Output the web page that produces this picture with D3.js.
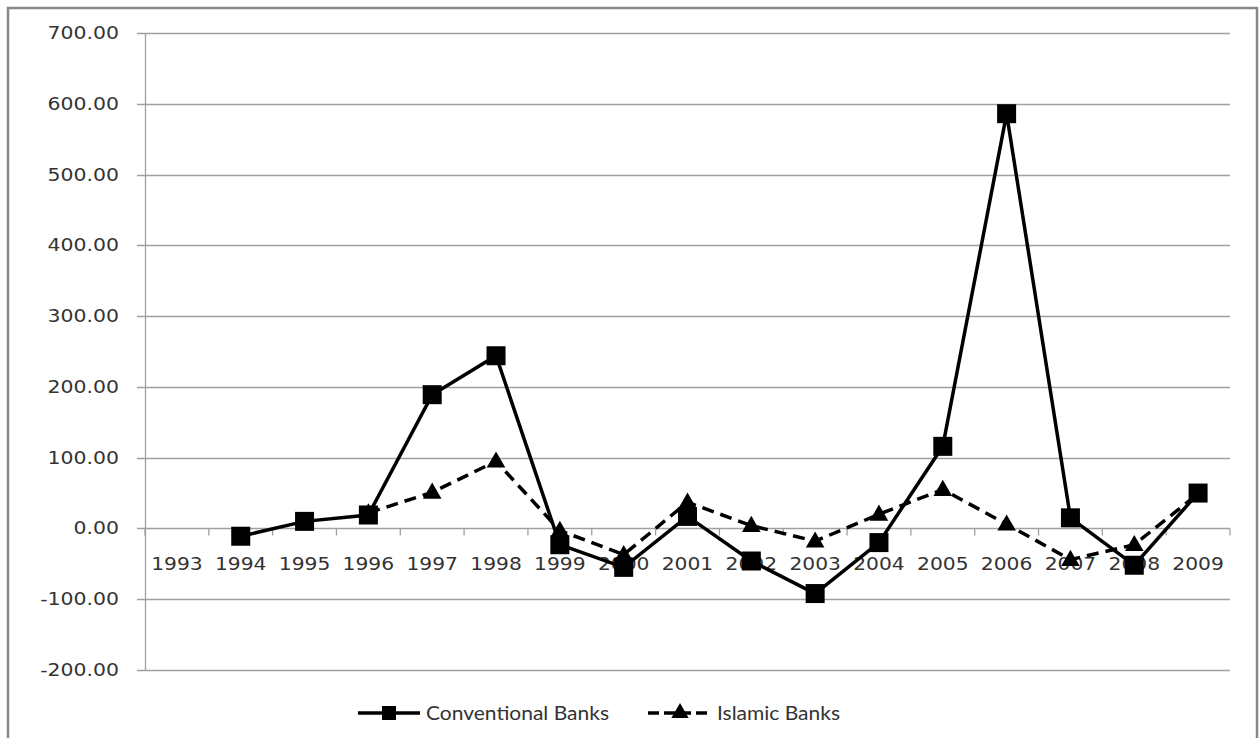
<!DOCTYPE html>
<html><head><meta charset="utf-8">
<script src="https://cdn.jsdelivr.net/npm/d3@7"></script>
<style>body{margin:0;background:#fff}svg{display:block}</style>
</head><body><svg id="c" width="1260" height="738"></svg>
<script>
const years = ["1993","1994","1995","1996","1997","1998","1999","2000","2001","2002","2003","2004","2005","2006","2007","2008","2009"];
const conventional = [null,-11,10,19,189,244,-23,-55,17,-46,-92,-20,116,586,15,-52,50];
const islamic = [null,null,null,22,51,95,-3,-37,37,4,-18,20,55,6,-44,-23,49];
const yTicks = [-200,-100,0,100,200,300,400,500,600,700];
const seriesNames = ["Conventional Banks","Islamic Banks"];

const svg = d3.select("#c");
const L=145,R=1230,T=33,B=670;
const x = d3.scaleBand().domain(years).range([L,R]);
const y = d3.scaleLinear().domain([-200,700]).range([B,T]);
const grid="#a0a0a0";
const txt="#333";

// frame
svg.append("rect").attr("x",8).attr("y",8).attr("width",1249).attr("height",760)
  .attr("fill","none").attr("stroke","#888").attr("stroke-width",2.5);

// gridlines
svg.append("g").selectAll("line").data(yTicks).join("line")
  .attr("x1",L-8).attr("x2",R).attr("y1",d=>Math.round(y(d))+0.5).attr("y2",d=>Math.round(y(d))+0.5)
  .attr("stroke",grid).attr("stroke-width",1.3);
svg.append("line").attr("x1",L+0.5).attr("x2",L+0.5).attr("y1",T).attr("y2",B).attr("stroke",grid).attr("stroke-width",1.3);
function stretch(sel,f){sel.each(function(){const w=this.getComputedTextLength();d3.select(this).attr("textLength",w*f).attr("lengthAdjust","spacingAndGlyphs");});}
const yl = svg.append("g").selectAll("text").data(yTicks).join("text")
  .attr("x",119).attr("y",d=>y(d)+6).attr("text-anchor","end")
  .attr("font-family","DejaVu Sans").attr("font-size",17).attr("fill",txt)
  .text(d=>d3.format(".2f")(d).replace("\u2212","-"));
stretch(yl,1.2);
const y0=Math.round(y(0))+0.5;
const edges = years.map(d=>x(d)).concat([R]);
svg.append("g").selectAll("line").data(edges).join("line")
  .attr("x1",d=>d).attr("x2",d=>d).attr("y1",y0).attr("y2",y0+7).attr("stroke",grid).attr("stroke-width",1.3);
const xl = svg.append("g").selectAll("text").data(years).join("text")
  .attr("x",d=>x(d)+x.bandwidth()/2).attr("y",570).attr("text-anchor","middle")
  .attr("font-family","DejaVu Sans").attr("font-size",17).attr("fill",txt).text(d=>d);
stretch(xl,1.19);

const cx = i=>x(years[i])+x.bandwidth()/2;
const line = d3.line().defined(d=>d.v!=null).x(d=>cx(d.i)).y(d=>y(d.v));
const cData = conventional.map((v,i)=>({v,i}));
const iData = islamic.map((v,i)=>({v,i}));
const tri = d3.symbol().type(d3.symbolTriangle).size(150);

svg.append("path").attr("d",line(iData)).attr("fill","none").attr("stroke","#000").attr("stroke-width",3.5).attr("stroke-dasharray","12,7");
svg.append("g").selectAll("path").data(iData.filter(d=>d.v!=null)).join("path")
  .attr("d",tri).attr("transform",d=>`translate(${cx(d.i)},${y(d.v)+1})`).attr("fill","#000");
svg.append("path").attr("d",line(cData)).attr("fill","none").attr("stroke","#000").attr("stroke-width",3.5);
svg.append("g").selectAll("rect").data(cData.filter(d=>d.v!=null)).join("rect")
  .attr("x",d=>cx(d.i)-9.5).attr("y",d=>y(d.v)-9.5).attr("width",19).attr("height",19).attr("fill","#000");

// legend
const ly=713;
const lg=svg.append("g");
lg.append("line").attr("x1",358).attr("x2",420).attr("y1",ly).attr("y2",ly).attr("stroke","#000").attr("stroke-width",3.5);
lg.append("rect").attr("x",389-7).attr("y",ly-7).attr("width",14).attr("height",14).attr("fill","#000");
lg.append("text").attr("x",426).attr("y",ly+7).attr("font-family","Lato").attr("font-size",19.5).attr("fill",txt)
  .attr("textLength",183).attr("lengthAdjust","spacingAndGlyphs").text(seriesNames[0]);
lg.append("line").attr("x1",648).attr("x2",711).attr("y1",ly).attr("y2",ly).attr("stroke","#000").attr("stroke-width",3.5).attr("stroke-dasharray","11,5");
lg.append("path").attr("d",d3.symbol().type(d3.symbolTriangle).size(130)).attr("transform",`translate(680,${ly})`).attr("fill","#000");
lg.append("text").attr("x",717).attr("y",ly+7).attr("font-family","Lato").attr("font-size",19.5).attr("fill",txt)
  .attr("textLength",123).attr("lengthAdjust","spacingAndGlyphs").text(seriesNames[1]);
</script></body></html>
